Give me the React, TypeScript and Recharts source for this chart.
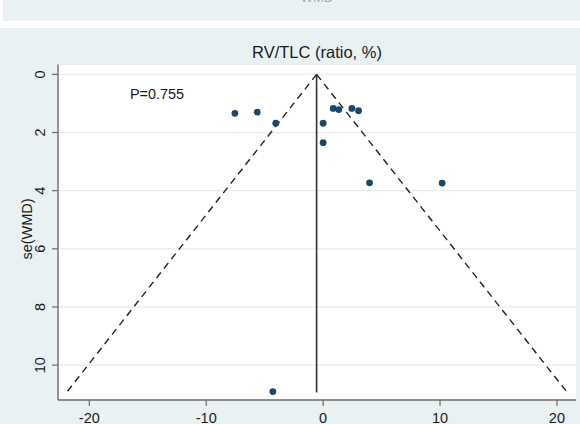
import React from 'react'
import {
  ScatterChart, Scatter, XAxis, YAxis, CartesianGrid, ReferenceLine,
} from 'recharts'

// study effects (WMD) and their standard errors
const studyWMD = [-7.55, -5.64, -4.05, 0.86, 1.34, 2.46, 3.03, 0.0, 0.0, 3.97, 10.18, -4.3]
const studySE = [1.34, 1.3, 1.68, 1.17, 1.21, 1.17, 1.25, 1.68, 2.35, 3.73, 3.74, 10.91]

// pooled estimate line and pseudo 95% limits
const pooledLine = [{ x: -0.56, y: 0 }, { x: -0.56, y: 10.94 }]
const lowerLimit = [{ x: -0.56, y: 0 }, { x: -21.95, y: 10.94 }]
const upperLimit = [{ x: -0.56, y: 0 }, { x: 20.88, y: 10.94 }]

const xTicks = [-20, -10, 0, 10, 20]
const yTicks = [0, 2, 4, 6, 8, 10]

const BG = '#eaf1f3'
const FONT = '"Liberation Sans", Arial, sans-serif'
const TEXT = '#1a1a1a'
const AXIS = '#6b6b6b'

const points = studyWMD.map((x, i) => ({ x, y: studySE[i] }))

const XTick = ({ x, payload }: any) => (
  <text x={x} y={422.5} textAnchor="middle" fontSize={14.5} fill={TEXT} fontFamily={FONT}>
    {payload.value}
  </text>
)

const YTick = ({ y, payload }: any) => (
  <text x={45.5} y={y} textAnchor="middle" fontSize={14.5} fill={TEXT} fontFamily={FONT}
    transform={`rotate(-90, 45.5, ${y})`}>
    {payload.value}
  </text>
)

export default function App() {
  return (
    <div style={{ position: 'fixed', left: 0, top: 0, width: 580, height: 424, background: '#fff', overflow: 'hidden' }}>
      <div style={{ position: 'absolute', left: 3, top: 0, width: 577, height: 21, background: BG }} />
      <div style={{ position: 'absolute', left: 0, top: 28, width: 580, height: 396, background: BG }} />

      <div style={{ position: 'absolute', left: 0, top: 0 }}>
        <ScatterChart width={580} height={424} margin={{ top: 64.5, right: 4, bottom: 0, left: 0 }}>
          <CartesianGrid fill="#fff" stroke="#e4ecee" strokeWidth={1.2} vertical={false} />
          <XAxis type="number" dataKey="x" domain={[-22.68, 21.63]} ticks={xTicks} allowDataOverflow
            height={24} tickSize={6} axisLine={{ stroke: AXIS, strokeWidth: 1.4 }}
            tickLine={{ stroke: AXIS, strokeWidth: 1.2 }} tick={<XTick />} />
          <YAxis type="number" dataKey="y" domain={[-0.34, 11.2]} ticks={yTicks} reversed allowDataOverflow
            width={58} tickSize={6} axisLine={{ stroke: AXIS, strokeWidth: 1.4 }}
            tickLine={{ stroke: AXIS, strokeWidth: 1.2 }} tick={<YTick />} />
          <ReferenceLine segment={lowerLimit} stroke="#222" strokeWidth={1.4} strokeDasharray="7 5" />
          <ReferenceLine segment={upperLimit} stroke="#222" strokeWidth={1.4} strokeDasharray="7 5" />
          <ReferenceLine segment={pooledLine} stroke="#333" strokeWidth={1.6} />
          <Scatter data={points} fill="#1a476f" isAnimationActive={false}
            shape={(p: any) => <circle cx={p.cx} cy={p.cy} r={3.4} fill="#1a476f" />} />
        </ScatterChart>
      </div>

      <svg width={580} height={424} style={{ position: 'absolute', left: 0, top: 0, pointerEvents: 'none' }}>
        <text x={317} y={1.5} textAnchor="middle" fontSize={13} fill="#aaa" fontFamily={FONT}>WMD</text>
        <text x={317} y={57.5} textAnchor="middle" fontSize={16.5} fill={TEXT} fontFamily={FONT}>RV/TLC (ratio, %)</text>
        <text x={130} y={98.5} fontSize={14.4} fill={TEXT} fontFamily={FONT}>P=0.755</text>
        <text x={31.5} y={229} textAnchor="middle" fontSize={14.5} fill={TEXT} fontFamily={FONT}
          transform="rotate(-90, 31.5, 229)">se(WMD)</text>
      </svg>
    </div>
  )
}
